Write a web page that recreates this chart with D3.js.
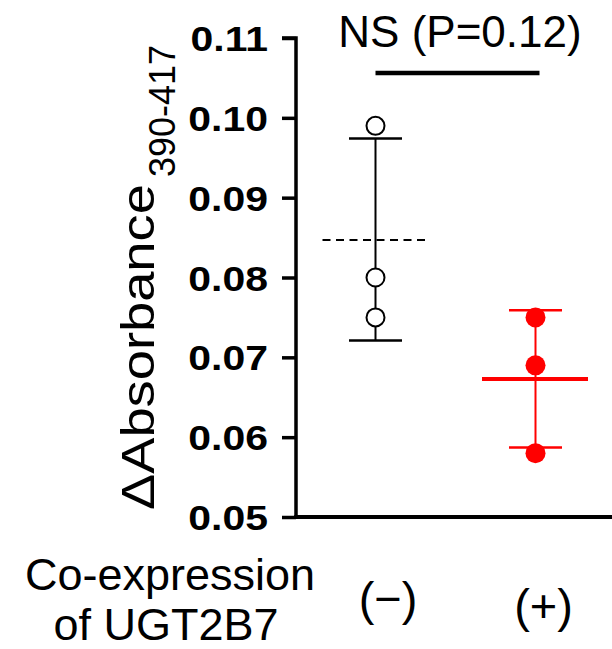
<!DOCTYPE html>
<html>
<head>
<meta charset="utf-8">
<script src="https://cdn.jsdelivr.net/npm/d3@7"></script>
<style>
  html, body { margin: 0; padding: 0; background: #fff; }
  svg { display: block; }
  text { font-family: "Liberation Sans", Arial, sans-serif; }
</style>
</head>
<body>
<svg id="chart" width="612" height="649"></svg>
<script>
// ---- data ----
const categories = ["(\u2212)", "(+)"];
const pointsNeg = [0.099, 0.080, 0.075];
const pointsPos = [0.075, 0.069, 0.058];
const means = [0.0847, 0.0673];
const errUpper = [0.0974, 0.0759];
const errLower = [0.0721, 0.0587];
const yTicks = [0.05, 0.06, 0.07, 0.08, 0.09, 0.10, 0.11];
const sigLabel = "NS (P=0.12)";

const svg = d3.select("#chart");

const y = d3.scaleLinear().domain([0.05, 0.11]).range([517, 38]);
const x = d3.scalePoint().domain(categories).range([375.5, 535.5]);
const axisX = 296;

// y axis
const yAxis = d3.axisLeft(y).tickValues(yTicks).tickSize(14).tickPadding(12)
  .tickFormat(d3.format(".2f"));
const gy = svg.append("g").attr("transform", `translate(${axisX},0)`).call(yAxis);
gy.select(".domain").attr("stroke", "#000").attr("stroke-width", 3.5)
  .attr("d", `M-14,${y(0.11)}H0V${y(0.05)}`);
gy.selectAll(".tick line").attr("stroke", "#000").attr("stroke-width", 3.5);
const sx = 1.17;
gy.selectAll(".tick text").attr("fill", "#000")
  .style("font-family", '"Liberation Sans", Arial, sans-serif')
  .style("font-weight", "bold").style("font-size", "35px")
  .attr("x", -28 / sx)
  .attr("transform", `scale(${sx},1)`)
  .attr("dy", "0.36em");

// x axis line
svg.append("line").attr("x1", axisX - 1.75).attr("x2", 612)
  .attr("y1", y(0.05)).attr("y2", y(0.05))
  .attr("stroke", "#000").attr("stroke-width", 4);

// y axis label
svg.append("text")
  .attr("transform", `translate(154,510) rotate(-90) scale(1.18,1)`)
  .attr("fill", "#000").style("font-size", "46px")
  .text("\u0394Absorbance");
svg.append("text")
  .attr("transform", `translate(175,177) rotate(-90)`)
  .attr("fill", "#000").style("font-size", "36px")
  .text("390-417");

// groups
const groups = [
  { cat: categories[0], pts: pointsNeg, mean: means[0], hi: errUpper[0], lo: errLower[0], color: "#000", filled: false },
  { cat: categories[1], pts: pointsPos, mean: means[1], hi: errUpper[1], lo: errLower[1], color: "#ff0000", filled: true }
];

groups.forEach((g, i) => {
  const cx = x(g.cat);
  const gg = svg.append("g");
  gg.append("line").attr("x1", cx).attr("x2", cx)
    .attr("y1", y(g.hi)).attr("y2", y(g.lo))
    .attr("stroke", g.color).attr("stroke-width", 2);
  [g.hi, g.lo].forEach(v => {
    gg.append("line").attr("x1", cx - 26.5).attr("x2", cx + 26.5)
      .attr("y1", y(v)).attr("y2", y(v))
      .attr("stroke", g.color).attr("stroke-width", 2.5);
  });
  const ml = gg.append("line")
    .attr("y1", y(g.mean)).attr("y2", y(g.mean))
    .attr("stroke", g.color);
  if (i === 0) {
    ml.attr("x1", cx - 53).attr("x2", cx + 50).attr("stroke-width", 2)
      .attr("stroke-dasharray", "8,5.5");
  } else {
    ml.attr("x1", cx - 53.5).attr("x2", cx + 52.5).attr("stroke-width", 4);
  }
  gg.selectAll("circle").data(g.pts).enter().append("circle")
    .attr("cx", cx).attr("cy", d => y(d))
    .attr("r", g.filled ? 10 : 9)
    .attr("fill", g.filled ? g.color : "#fff")
    .attr("stroke", g.filled ? "none" : g.color)
    .attr("stroke-width", 2);
});

// category labels
const labOffsets = [12.5, 8];
const labBase = [615, 622];
categories.forEach((c, i) => {
  svg.append("text").attr("x", x(c) + labOffsets[i]).attr("y", labBase[i])
    .attr("text-anchor", "middle").style("font-size", "47px").attr("fill", "#000")
    .text(c);
});

// x axis title
svg.append("text").attr("x", 170).attr("y", 590).attr("text-anchor", "middle")
  .style("font-size", "45px").attr("fill", "#000").text("Co-expression");
svg.append("text").attr("x", 166).attr("y", 640).attr("text-anchor", "middle")
  .style("font-size", "45px").attr("fill", "#000").text("of UGT2B7");

// significance
svg.append("line").attr("x1", x(categories[0])).attr("x2", x(categories[1]) + 4)
  .attr("y1", 73).attr("y2", 73).attr("stroke", "#000").attr("stroke-width", 4.5);
svg.append("text").attr("x", 460).attr("y", 47).attr("text-anchor", "middle")
  .style("font-size", "44px").attr("fill", "#000").text(sigLabel);
</script>
</body>
</html>
